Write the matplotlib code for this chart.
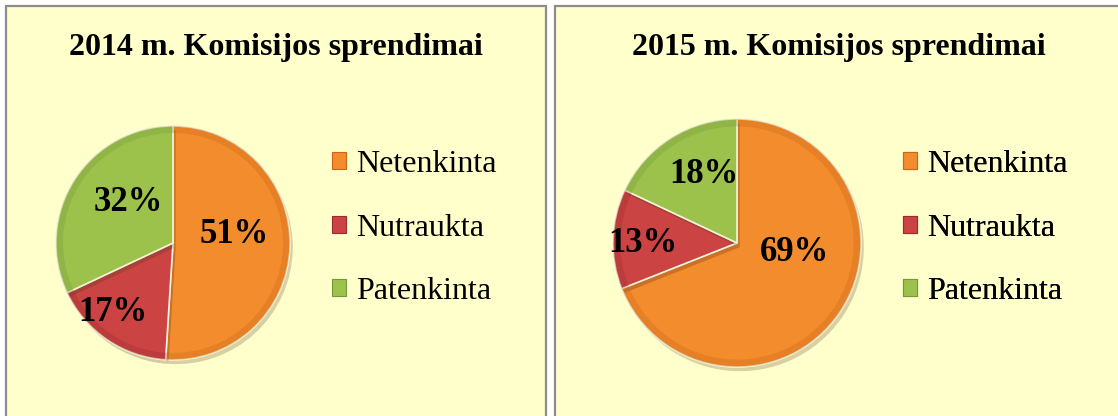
import matplotlib
matplotlib.use("Agg")
import matplotlib.pyplot as plt
import matplotlib.patches as mpatches
import matplotlib.patheffects as pe

plt.rcParams['font.family'] = ['Liberation Serif', 'DejaVu Serif']

# data
categories = ["Netenkinta", "Nutraukta", "Patenkinta"]
years = ["2014", "2015"]
shares_2014 = [51, 17, 32]
shares_2015 = [69, 13, 18]

colors = ["#F28C2C", "#CC4343", "#9DC24C"]
edge_colors = ["#C8661A", "#992C2C", "#76963A"]

W, H = 1118, 416
fig = plt.figure(figsize=(W / 100, H / 100), dpi=100)
fig.patch.set_facecolor("white")
ax = fig.add_axes([0, 0, 1, 1])

# panels (pixel coords, y up)
for x0, x1 in [(6, 546), (555, 1130)]:
    ax.add_patch(mpatches.Rectangle((x0, -10), x1 - x0, H - 6 + 10,
                                    facecolor="#FFFFCC", edgecolor="#8C8C8C",
                                    lw=1.6, zorder=0))

panels = [
    dict(vals=shares_2014, year=years[0], c=(173, H - 243), r=117,
         explode=[0.02, 0.02, 0.02], tx=276,
         lab=[(0.52, 0.07), (-0.51, -0.59), (-0.38, 0.35)], leg=(332, H - 228)),
    dict(vals=shares_2015, year=years[1], c=(737, H - 243), r=124,
         explode=[0.03, 0.0, 0.0], tx=839,
         lab=[(0.46, -0.08), (-0.76, 0.0), (-0.27, 0.55)], leg=(903, H - 228)),
]

for p in panels:
    wedges, texts, autotexts = ax.pie(
        p["vals"], colors=colors, startangle=90, counterclock=False,
        center=p["c"], radius=p["r"], explode=p["explode"],
        autopct="%1.0f%%", pctdistance=0.5, frame=True,
        wedgeprops=dict(edgecolor="#F4F4D8", linewidth=1.2),
        textprops=dict(fontsize=25, fontweight="bold", color="black"))
    for w in wedges:
        w.set_path_effects([pe.SimplePatchShadow(offset=(2, -3), alpha=0.22),
                            pe.Normal()])
    # soft darker rim for a bevel look
    for w, ec in zip(wedges, edge_colors):
        rim = mpatches.Wedge(w.center, w.r, w.theta1, w.theta2,
                             width=w.r * 0.06, facecolor=ec, edgecolor="none",
                             alpha=0.3, zorder=w.get_zorder() + 0.1)
        ax.add_patch(rim)
    for t, (dx, dy) in zip(autotexts, p["lab"]):
        t.set_position((p["c"][0] + dx * p["r"], p["c"][1] + dy * p["r"]))
        t.set_zorder(5)
    ax.text(p["tx"], H - 48, p["year"] + " m. Komisijos sprendimai",
            ha="center", va="center", fontsize=23, fontweight="bold")
    leg = ax.legend(wedges, categories, loc="center left",
                    bbox_to_anchor=p["leg"], bbox_transform=ax.transData,
                    frameon=False, fontsize=23, handlelength=0.45,
                    handleheight=0.45, handletextpad=0.3, labelspacing=1.08,
                    borderpad=0, borderaxespad=0)
    for h, ec in zip(leg.legend_handles, edge_colors):
        h.set_edgecolor(ec)
        h.set_linewidth(0.8)
        h.set_path_effects([])
    ax.add_artist(leg)

ax.set_xlim(0, W)
ax.set_ylim(0, H)
ax.set_aspect("auto")
ax.axis("off")

fig.savefig("out.png", dpi=100)
